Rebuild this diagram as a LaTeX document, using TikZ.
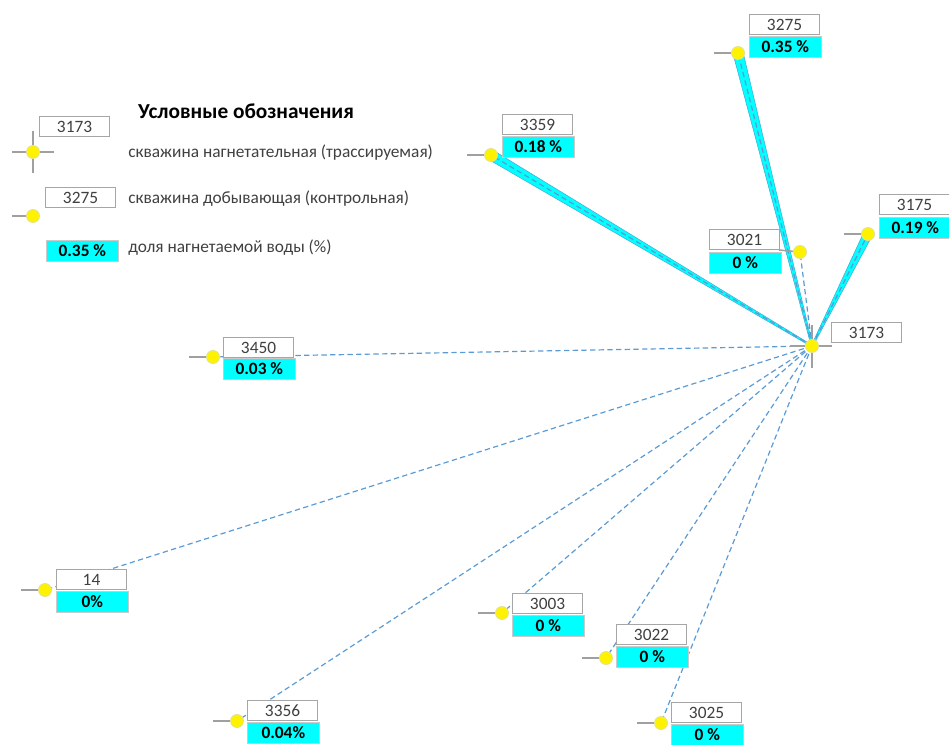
\documentclass[tikz,border=0pt]{standalone}
\usepackage{fontspec}
\setmainfont{Carlito}
\usetikzlibrary{calc}

\definecolor{flowblue}{RGB}{91,155,213}
\definecolor{wedgeedge}{RGB}{70,170,215}
\definecolor{aqua}{RGB}{0,255,255}
\definecolor{boxgray}{RGB}{166,166,166}
\definecolor{stubgray}{RGB}{160,160,160}
\definecolor{numtext}{RGB}{64,64,64}
\definecolor{dotedge}{RGB}{225,225,150}

\tikzset{
  flow/.style={draw=flowblue, line width=0.9pt, dash pattern=on 4pt off 2.5pt},
  wedge/.style={fill=aqua, draw=wedgeedge, line width=0.4pt},
  stub/.style={draw=stubgray, line width=1.1pt},
  well/.style={circle, fill=yellow, draw=dotedge, line width=0.6pt, minimum size=9.8pt, inner sep=0pt},
  numbox/.style={draw=boxgray, fill=white, line width=0.8pt, anchor=north west,
    minimum width=52.5pt, minimum height=15pt, inner sep=0pt,
    font=\fontsize{13}{14}\selectfont, text=numtext},
  pctbox/.style={draw=boxgray!60, fill=aqua, line width=0.5pt, anchor=north west,
    minimum width=54pt, minimum height=15.5pt, inner sep=0pt,
    font=\fontsize{13}{14}\selectfont\bfseries, text=black},
  legtext/.style={anchor=west, inner sep=0pt, font=\fontsize{13}{14}\selectfont, text=numtext},
}

% tapered band from the injector to a producer, widening towards the producer
\newcommand\flowwedge[3]{%
  \filldraw[wedge] ($(#1)!0.6pt!90:(#2)$) -- ($(#2)!#3!-90:(#1)$)
    -- ($(#2)!#3!90:(#1)$) -- ($(#1)!0.6pt!-90:(#2)$) -- cycle;
  \draw[flow] (#1) -- (#2);}

\begin{document}
\begin{tikzpicture}[x=0.75pt, y=-0.75pt]
\useasboundingbox (0,0) rectangle (949,745);

% ---- well positions
\coordinate (c)  at (812,346);
\coordinate (w3275) at (738,53);
\coordinate (w3359) at (491,155);
\coordinate (w3175) at (868,234);
\coordinate (w3021) at (800,252);
\coordinate (w3450) at (213,357);
\coordinate (w14)   at (45,590);
\coordinate (w3356) at (237,721);
\coordinate (w3003) at (502,613);
\coordinate (w3022) at (606,658);
\coordinate (w3025) at (661,723);

% ---- tracer flow paths
\draw[flow] (c) -- (w3021);
\draw[flow] (c) -- (w3450);
\draw[flow] (c) -- (w14);
\draw[flow] (c) -- (w3356);
\draw[flow] (c) -- (w3003);
\draw[flow] (c) -- (w3022);
\draw[flow] (c) -- (w3025);
\flowwedge{c}{w3359}{3.8pt}
\flowwedge{c}{w3275}{3.8pt}
\flowwedge{c}{w3175}{3.4pt}

% ---- injector cross
\draw[stub] (812,325) -- (812,368);
\draw[stub] (790,346) -- (832,346);
\node[well] (d3173) at (c) {};

% ---- producer stubs and markers
\foreach \w in {3275,3359,3175,3450,14,3356,3003,3022,3025}{
  \draw[stub] (w\w) -- ++(-24,0);
}
\draw[stub] (779,250) -- (w3021);
\foreach \w in {3275,3359,3175,3021,3450,14,3356,3003,3022,3025}{
  \node[well] (d\w) at (w\w) {};
}

% ---- labels
\node[numbox] (l3173) at (831,322) {3173};

\node[numbox] (l3275) at (749,14) {3275};
\node[pctbox] (p3275) at (749,36) {0.35 \%};
\node[numbox] (l3359) at (502,114) {3359};
\node[pctbox] (p3359) at (502,136) {0.18 \%};
\node[numbox] (l3175) at (879,194) {3175};
\node[pctbox] (p3175) at (879,217) {0.19 \%};
\node[numbox] (l3021) at (709,229) {3021};
\node[pctbox] (p3021) at (709,252) {0 \%};
\node[numbox] (l3450) at (223,337) {3450};
\node[pctbox] (p3450) at (223,358) {0.03 \%};
\node[numbox] (l14)   at (56,569) {14};
\node[pctbox] (p14)   at (56,591) {0\%};
\node[numbox] (l3356) at (247,700) {3356};
\node[pctbox] (p3356) at (247,722) {0.04\%};
\node[numbox] (l3003) at (512,593) {3003};
\node[pctbox] (p3003) at (512,615) {0 \%};
\node[numbox] (l3022) at (616,624) {3022};
\node[pctbox] (p3022) at (616,646) {0 \%};
\node[numbox] (l3025) at (671,702) {3025};
\node[pctbox] (p3025) at (671,724) {0 \%};

% ---- legend
\node[font=\fontsize{16}{18}\selectfont\bfseries, text=black, inner sep=0pt] (legtitle) at (246,111) {Условные обозначения};

\draw[stub] (33,131) -- (33,173);
\draw[stub] (12,152) -- (54,152);
\node[well] (legi) at (33,152) {};
\node[numbox] (legil) at (39,116) {3173};
\node[legtext] (legit) at (128,153) {скважина нагнетательная (трассируемая)};

\draw[stub] (12,216) -- (33,216);
\node[well] (legp) at (33,216) {};
\node[numbox] (legpl) at (45,187) {3275};
\node[legtext] (legpt) at (128,199) {скважина добывающая (контрольная)};

\node[pctbox] (legf) at (46,240) {0.35 \%};
\node[legtext] (legft) at (128,248) {доля нагнетаемой воды (\%)};
\end{tikzpicture}
\end{document}
